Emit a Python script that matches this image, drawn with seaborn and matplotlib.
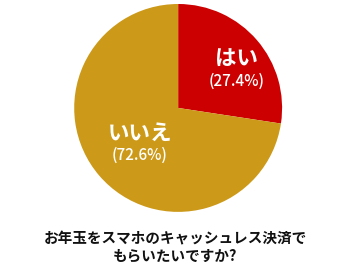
import matplotlib
matplotlib.use("Agg")
import matplotlib.pyplot as plt
import seaborn as sns

categories = ["はい", "いいえ"]
values = [27.4, 72.6]
pct_labels = ["(27.4%)", "(72.6%)"]
caption = "お年玉をスマホのキャッシュレス決済で\nもらいたいですか?"

sns.set_theme(style="white")
plt.rcParams['font.family'] = ['Noto Sans CJK JP', 'DejaVu Sans']

colors = sns.color_palette(["#CC0000", "#CC9918"])

fig = plt.figure(figsize=(3.5, 2.62), dpi=100)
ax = fig.add_axes([0.509 - 0.297, 0.588 - 0.397, 0.594, 0.794])
ax.pie(values, colors=colors, startangle=90, counterclock=False,
       wedgeprops=dict(linewidth=0))
ax.set_aspect('equal')
ax.set_xlim(-1, 1)
ax.set_ylim(-1, 1)

# label positions in axes data coordinates
label_pos = [(0.56, 0.48), (-0.37, -0.24)]
for cat, pct, (x, y) in zip(categories, pct_labels, label_pos):
    ax.text(x, y, cat, ha='center', va='center', color='white',
            fontsize=15.5, fontweight='bold')
    ax.text(x, y - 0.22, pct, ha='center', va='center', color='white',
            fontsize=11, fontweight='medium')

fig.text(0.5, 0.058, caption, ha='center', va='center', fontsize=10.5,
         fontweight='bold', color='#111111', linespacing=1.05)

fig.savefig("out.png", dpi=100)
